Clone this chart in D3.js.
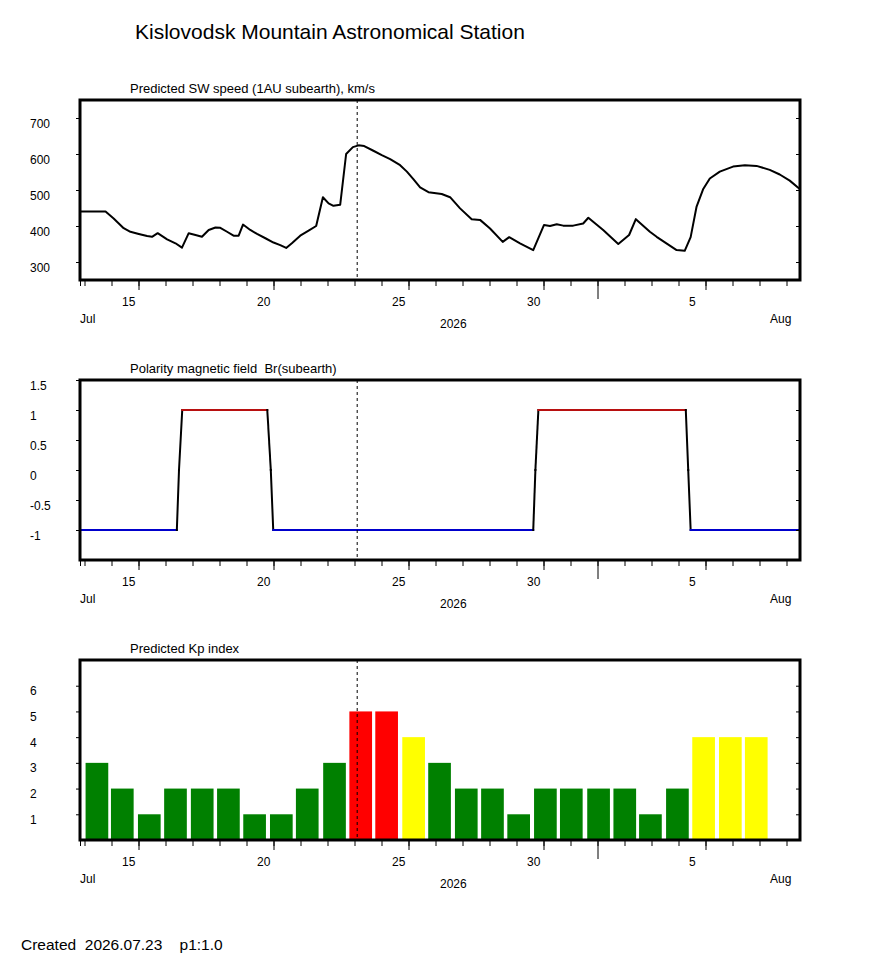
<!DOCTYPE html>
<html>
<head>
<meta charset="utf-8">
<script src="https://d3js.org/d3.v7.min.js"></script>
<style>
body { margin: 0; background: #fff; }
svg { font-family: "Liberation Sans", Arial, sans-serif; }
text { white-space: pre; }
</style>
</head>
<body>
<svg width="870" height="965"></svg>
<script>

/*****************************************
*   Data (days counted from Jul 0, so 32 = Aug 1)
*****************************************/

const SW_DAYS = [12.85, 13.78, 14.08, 14.45, 14.70, 15.01, 15.32, 15.50, 15.71, 16.06,
    16.37, 16.61, 16.86, 17.11, 17.35, 17.60, 17.85, 18.03, 18.28, 18.52,
    18.71, 18.87, 19.14, 19.39, 19.70, 20.00, 20.25, 20.47, 20.68, 20.99,
    21.30, 21.58, 21.83, 22.04, 22.22, 22.47, 22.69, 22.94, 23.15, 23.36,
    23.70, 24.01, 24.32, 24.69, 24.94, 25.18, 25.43, 25.74, 26.23, 26.54,
    26.91, 27.34, 27.65, 28.02, 28.49, 28.73, 29.13, 29.62, 30.02, 30.24,
    30.49, 30.73, 31.10, 31.47, 31.66, 32.21, 32.77, 33.17, 33.42, 33.94,
    34.19, 34.93, 35.23, 35.45, 35.67, 35.91, 36.16, 36.53, 37.02, 37.46,
    37.89, 38.38, 38.75, 39.12, 39.49];
const SW_SPEED = [440, 440, 421, 394, 384, 378, 372, 370, 380, 363,
    352, 340, 380, 375, 370, 389, 396, 395, 384, 373,
    373, 404, 389, 378, 366, 354, 347, 339, 352, 373,
    387, 400, 480, 463, 456, 459, 600, 619, 624, 622,
    609, 597, 586, 569, 551, 530, 507, 494, 489, 480,
    449, 419, 417, 393, 356, 369, 352, 333, 403, 400,
    405, 401, 401, 407, 423, 389, 350, 375, 419, 384,
    370, 333, 331, 369, 454, 502, 532, 551, 565, 569,
    567, 556, 543, 526, 503];

const BR_DAYS = [12.84, 16.42, 16.50, 16.62, 19.77, 19.90, 19.99, 29.62, 29.70, 29.81, 35.27, 35.36, 35.45, 39.5];
const BR_VALUES = [-1, -1, 0, 1, 1, 0, -1, -1, 0, 1, 1, 0, -1, -1];

// bar start times
const KP_DAYS = [13.04, 13.98, 14.98, 15.95, 16.94, 17.91, 18.88, 19.87, 20.83, 21.84,
    22.81, 23.77, 24.77, 25.73, 26.72, 27.69, 28.66, 29.65, 30.61, 31.62,
    32.59, 33.54, 34.54, 35.51, 36.50, 37.46];
const KP_VALUES = [3, 2, 1, 2, 2, 2, 1, 1, 2, 3, 5, 5, 4,
    3, 2, 2, 1, 2, 2, 2, 2, 1, 2, 4, 4, 4];
const KP_BAR_DAYS = 0.84;

const SPEED_TICKS = [300, 400, 500, 600, 700];
const BR_TICKS = [-1, -0.5, 0, 0.5, 1, 1.5];
const KP_TICKS = [1, 2, 3, 4, 5, 6];

const LABEL_DAYS = [15, 20, 25, 30, 36];
const LABEL_TEXT = ['15', '20', '25', '30', '5'];
const MONTH_DAY = 32;
const NOW_DAY = 23.10;

/*****************************************
*   Layout
*****************************************/

const PLOT_LEFT = 80;
const PLOT_RIGHT = 800;
const PANEL_HEIGHT = 180;
const PANEL_TOPS = [100, 380, 660];

var svg = d3.select('svg');

function july_day(d) {
    return new Date(Date.UTC(2026, 5, 30) + d * 864e5);
}

var xScale = d3.scaleUtc()
    .domain([july_day(12 + 20 / 24), july_day(39.5)])
    .range([PLOT_LEFT, PLOT_RIGHT]);

/*****************************************
*   Axes and frame
*****************************************/

function build_xaxis(top) {
    var bottom = top + PANEL_HEIGHT;
    var minor = d3.utcDay.range(july_day(13), july_day(39.2));
    minor.unshift(xScale.domain()[0]);

    svg.append('g')
        .attr('transform', 'translate(0,' + bottom + ')')
        .call(d3.axisBottom(xScale).tickValues(minor).tickSize(6).tickFormat(''))
        .call(a => a.select('.domain').remove());

    svg.append('g')
        .attr('transform', 'translate(0,' + bottom + ')')
        .call(d3.axisBottom(xScale).tickValues(LABEL_DAYS.map(july_day)).tickSize(10)
            .tickFormat((d, i) => LABEL_TEXT[i]))
        .call(function(a) {
            a.select('.domain').remove();
            a.attr('font-size', 12).attr('font-family', null);
            a.selectAll('text')
                .attr('text-anchor', 'start')
                .attr('x', -17)
                .attr('y', 26)
                .attr('dy', null);
        });

    svg.append('g')
        .attr('transform', 'translate(0,' + bottom + ')')
        .call(d3.axisBottom(xScale).tickValues([july_day(MONTH_DAY)]).tickSize(19).tickFormat(''))
        .call(a => a.select('.domain').remove());

    svg.append('text').attr('x', PLOT_LEFT).attr('y', bottom + 43)
        .attr('font-size', 12).text('Jul');
    svg.append('text').attr('x', (PLOT_LEFT + PLOT_RIGHT) / 2).attr('y', bottom + 48)
        .attr('font-size', 12).text('2026');
    svg.append('text').attr('x', 770).attr('y', bottom + 43)
        .attr('font-size', 12).text('Aug');
}

function build_yaxis(yScale, ticks) {
    svg.append('g')
        .attr('transform', 'translate(' + PLOT_LEFT + ',0)')
        .call(d3.axisLeft(yScale).tickValues(ticks).tickSize(4).tickFormat(d => String(d)))
        .call(function(a) {
            a.select('.domain').remove();
            a.attr('font-size', 12).attr('font-family', null);
            a.selectAll('text')
                .attr('text-anchor', 'start')
                .attr('x', 30 - PLOT_LEFT)
                .attr('y', 9)
                .attr('dy', null);
        });
    svg.append('g')
        .attr('transform', 'translate(' + PLOT_RIGHT + ',0)')
        .call(d3.axisRight(yScale).tickValues(ticks).tickSize(-4).tickFormat(''))
        .call(a => a.select('.domain').remove());
}

function draw_frame(top, title) {
    svg.append('line')
        .attr('x1', xScale(july_day(NOW_DAY))).attr('x2', xScale(july_day(NOW_DAY)))
        .attr('y1', top).attr('y2', top + PANEL_HEIGHT)
        .attr('stroke', '#000').attr('stroke-width', 1)
        .attr('stroke-dasharray', '3,3');
    svg.append('rect')
        .attr('x', PLOT_LEFT).attr('y', top)
        .attr('width', PLOT_RIGHT - PLOT_LEFT).attr('height', PANEL_HEIGHT)
        .attr('fill', 'none').attr('stroke', '#000').attr('stroke-width', 3);
    svg.append('text')
        .attr('x', 130).attr('y', top - 7.5)
        .attr('font-size', 13)
        .text(title);
}

/*****************************************
*   Panels
*****************************************/

svg.append('text')
    .attr('x', 135).attr('y', 39)
    .attr('font-size', 21)
    .text('Kislovodsk Mountain Astronomical Station');

// SW speed
var top1 = PANEL_TOPS[0];
var ySpeed = d3.scaleLinear().domain([250, 750]).range([top1 + PANEL_HEIGHT, top1]);
svg.append('path')
    .datum(SW_DAYS.map((d, i) => [july_day(d), SW_SPEED[i]]))
    .attr('fill', 'none').attr('stroke', '#000').attr('stroke-width', 2)
    .attr('stroke-linejoin', 'round')
    .attr('d', d3.line().x(d => xScale(d[0])).y(d => ySpeed(d[1])));
build_yaxis(ySpeed, SPEED_TICKS);
build_xaxis(top1);
draw_frame(top1, 'Predicted SW speed (1AU subearth), km/s');

// Polarity
var top2 = PANEL_TOPS[1];
var yBr = d3.scaleLinear().domain([-1.5, 1.5]).range([top2 + PANEL_HEIGHT, top2]);
var brLine = d3.line().x(d => xScale(july_day(d[0]))).y(d => yBr(d[1]));
for (var i = 0; i < BR_DAYS.length - 1; i++) {
    var a = BR_VALUES[i], b = BR_VALUES[i + 1];
    var colour = '#000';
    if (a == -1 && b == -1) colour = '#0000cc';
    if (a == 1 && b == 1) colour = '#b81010';
    svg.append('path')
        .attr('d', brLine([[BR_DAYS[i], a], [BR_DAYS[i + 1], b]]))
        .attr('fill', 'none').attr('stroke', colour).attr('stroke-width', 2)
        .attr('stroke-linecap', 'square');
}
build_yaxis(yBr, BR_TICKS);
build_xaxis(top2);
draw_frame(top2, 'Polarity magnetic field  Br(subearth)');

// Kp index
var top3 = PANEL_TOPS[2];
var yKp = d3.scaleLinear().domain([0, 7]).range([top3 + PANEL_HEIGHT, top3]);
function kp_colour(v) {
    if (v >= 5) return '#ff0000';
    if (v == 4) return '#ffff00';
    return '#008000';
}
svg.append('g')
    .selectAll('rect')
    .data(KP_DAYS)
    .enter()
      .append('rect')
      .attr('x', d => xScale(july_day(d)))
      .attr('width', d => xScale(july_day(d + KP_BAR_DAYS)) - xScale(july_day(d)))
      .attr('y', (d, i) => yKp(KP_VALUES[i]))
      .attr('height', (d, i) => yKp(0) - yKp(KP_VALUES[i]))
      .attr('fill', (d, i) => kp_colour(KP_VALUES[i]));
build_yaxis(yKp, KP_TICKS);
build_xaxis(top3);
draw_frame(top3, 'Predicted Kp index');

svg.append('text')
    .attr('x', 21).attr('y', 950)
    .attr('font-size', 15.5)
    .text('Created  2026.07.23    p1:1.0');

</script>
</body>
</html>
